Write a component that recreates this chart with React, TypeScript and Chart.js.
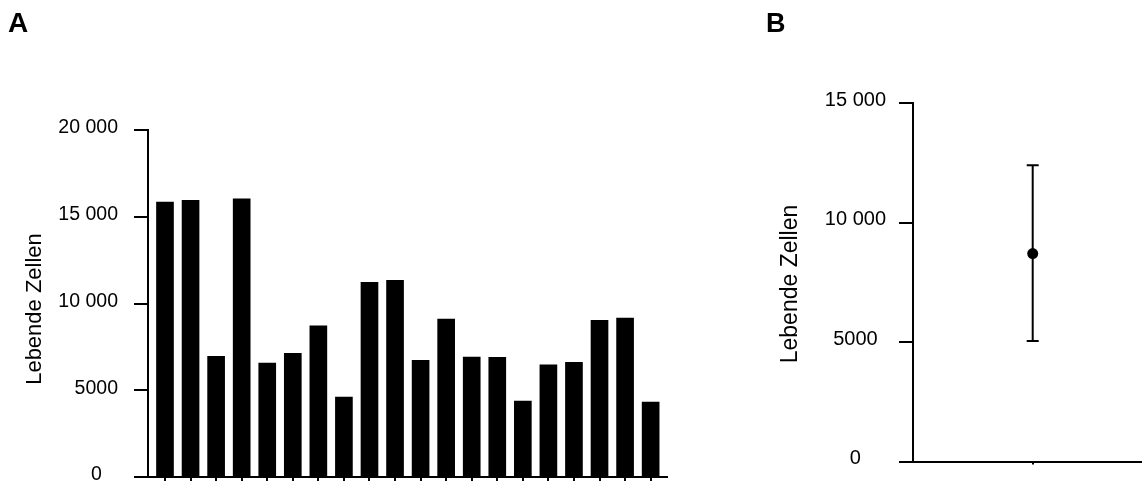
import React, { useEffect, useRef } from 'react';
import { Chart, registerables } from 'chart.js';

Chart.register(...registerables);

const FONT = '"Liberation Sans", Arial, Helvetica, sans-serif';

// Panel A: living cells per sample
const samples = ['1', '2', '3', '4', '5', '6', '7', '8', '9', '10', '11', '12', '13', '14', '15', '16', '17', '18', '19', '20'];
const livingCells = [15850, 15950, 6950, 16040, 6570, 7130, 8720, 4610, 11220, 11330, 6720, 9100, 6910, 6900, 4380, 6460, 6610, 9030, 9160, 4320];
const yTickLabelsA = ['0   ', '5000', '10 000', '15 000', '20 000'];

// Panel B: summary (mean with error bar)
const summaryMean = [8700];
const summaryLow = [5040];
const summaryHigh = [12400];
const yTickLabelsB = ['0', '5000', '10 000', '15 000'];

const axisTitle = 'Lebende Zellen';
const panelLetters = ['A', 'B'];

type Geometry = {
  letterX: number;
  letterY: number;
  letterSize: number;
  titleX: number;
  titleY: number;
  titleSize: number;
};

const makeAnnotations = (letter: string, g: Geometry) => ({
  id: 'panelAnnotations',
  afterDraw(chart: any) {
    const ctx = chart.ctx as CanvasRenderingContext2D;
    ctx.save();
    ctx.fillStyle = '#000';
    ctx.textAlign = 'left';
    ctx.textBaseline = 'alphabetic';
    ctx.font = `bold ${g.letterSize}px ${FONT}`;
    ctx.fillText(letter, g.letterX, g.letterY);
    ctx.translate(g.titleX, g.titleY);
    ctx.rotate(-Math.PI / 2);
    ctx.font = `${g.titleSize}px ${FONT}`;
    ctx.textAlign = 'center';
    ctx.fillText(axisTitle, 0, 0);
    ctx.restore();
  },
});

const errorBars = {
  id: 'errorBars',
  afterDatasetsDraw(chart: any) {
    const ctx = chart.ctx as CanvasRenderingContext2D;
    const xs = chart.scales.x;
    const ys = chart.scales.y;
    ctx.save();
    ctx.strokeStyle = '#000';
    ctx.lineWidth = 2;
    summaryMean.forEach((_, i) => {
      const x = xs.getPixelForValue(i);
      const yLo = ys.getPixelForValue(summaryLow[i]);
      const yHi = ys.getPixelForValue(summaryHigh[i]);
      const cap = 6;
      ctx.beginPath();
      ctx.moveTo(x, yLo);
      ctx.lineTo(x, yHi);
      ctx.moveTo(x - cap, yLo);
      ctx.lineTo(x + cap, yLo);
      ctx.moveTo(x - cap, yHi);
      ctx.lineTo(x + cap, yHi);
      ctx.stroke();
    });
    ctx.restore();
  },
};

const axisCommon = {
  border: { display: true, color: '#000', width: 2 },
};

export default function App() {
  const refA = useRef<HTMLCanvasElement | null>(null);
  const refB = useRef<HTMLCanvasElement | null>(null);

  useEffect(() => {
    if (!refA.current || !refB.current) return;

    const chartA = new Chart(refA.current, {
      type: 'bar',
      data: {
        labels: samples,
        datasets: [
          {
            data: livingCells.map((v, i) => ({ x: i, y: v })) as any,
            backgroundColor: '#000',
            borderWidth: 0,
            barThickness: 17,
          },
        ],
      },
      options: {
        responsive: false,
        maintainAspectRatio: false,
        animation: false,
        layout: { autoPadding: false, padding: { left: 0, top: 130, right: 33, bottom: 0 } },
        plugins: { legend: { display: false }, tooltip: { enabled: false } },
        scales: {
          x: {
            type: 'linear',
            min: -0.665,
            max: 19.64,
            offset: false,
            afterBuildTicks: (s: any) => {
              s.ticks = samples.map((_, i) => ({ value: i }));
            },
            afterFit: (s: any) => {
              s.height = 53;
            },
            ticks: { display: false },
            grid: { drawOnChartArea: false, drawTicks: true, tickLength: 8, color: '#000', lineWidth: 2, offset: false },
            ...axisCommon,
          },
          y: {
            min: 0,
            max: 20000,
            afterFit: (s: any) => {
              s.width = 148;
            },
            ticks: {
              stepSize: 5000,
              padding: 16,
              labelOffset: -2,
              color: '#000',
              font: { family: FONT, size: 19.5 },
              callback: (_v: any, i: number) => yTickLabelsA[i],
            },
            grid: { drawOnChartArea: false, drawTicks: true, tickLength: 14, color: '#000', lineWidth: 2 },
            ...axisCommon,
          },
        },
      },
      plugins: [
        makeAnnotations(panelLetters[0], {
          letterX: 8,
          letterY: 32,
          letterSize: 28,
          titleX: 41,
          titleY: 309,
          titleSize: 22,
        }),
      ],
    } as any);

    const chartB = new Chart(refB.current, {
      type: 'scatter',
      data: {
        datasets: [
          {
            data: summaryMean.map((m, i) => ({ x: i, y: m })),
            backgroundColor: '#000',
            borderColor: '#000',
            pointRadius: 5.5,
            borderWidth: 0,
          },
        ],
      },
      options: {
        responsive: false,
        maintainAspectRatio: false,
        animation: false,
        layout: { autoPadding: false, padding: { left: 0, top: 103, right: 27.6, bottom: 0 } },
        plugins: { legend: { display: false }, tooltip: { enabled: false } },
        scales: {
          x: {
            type: 'linear',
            min: -1,
            max: 1,
            afterBuildTicks: (s: any) => {
              s.ticks = summaryMean.map((_, i) => ({ value: i }));
            },
            afterFit: (s: any) => {
              s.height = 38.5;
            },
            ticks: { display: false },
            grid: { drawOnChartArea: false, drawTicks: true, tickLength: 3, color: '#000', lineWidth: 2 },
            ...axisCommon,
          },
          y: {
            min: 0,
            max: 15000,
            afterFit: (s: any) => {
              s.width = 173;
            },
            ticks: {
              stepSize: 5000,
              padding: 13,
              labelOffset: -3,
              crossAlign: 'center',
              color: '#000',
              font: { family: FONT, size: 20 },
              callback: (_v: any, i: number) => yTickLabelsB[i],
            },
            grid: { drawOnChartArea: false, drawTicks: true, tickLength: 14, color: '#000', lineWidth: 2 },
            ...axisCommon,
          },
        },
      },
      plugins: [
        errorBars,
        makeAnnotations(panelLetters[1], {
          letterX: 26,
          letterY: 32,
          letterSize: 27,
          titleX: 57,
          titleY: 284,
          titleSize: 23,
        }),
      ],
    } as any);

    return () => {
      chartA.destroy();
      chartB.destroy();
    };
  }, []);

  return (
    <div
      style={{
        position: 'fixed',
        left: 0,
        top: 0,
        width: 1142,
        height: 481,
        overflow: 'hidden',
        background: '#fff',
      }}
    >
      <canvas ref={refA} width={700} height={530} style={{ position: 'absolute', left: 0, top: 0 }} />
      <canvas ref={refB} width={440} height={500} style={{ position: 'absolute', left: 740, top: 0 }} />
    </div>
  );
}
